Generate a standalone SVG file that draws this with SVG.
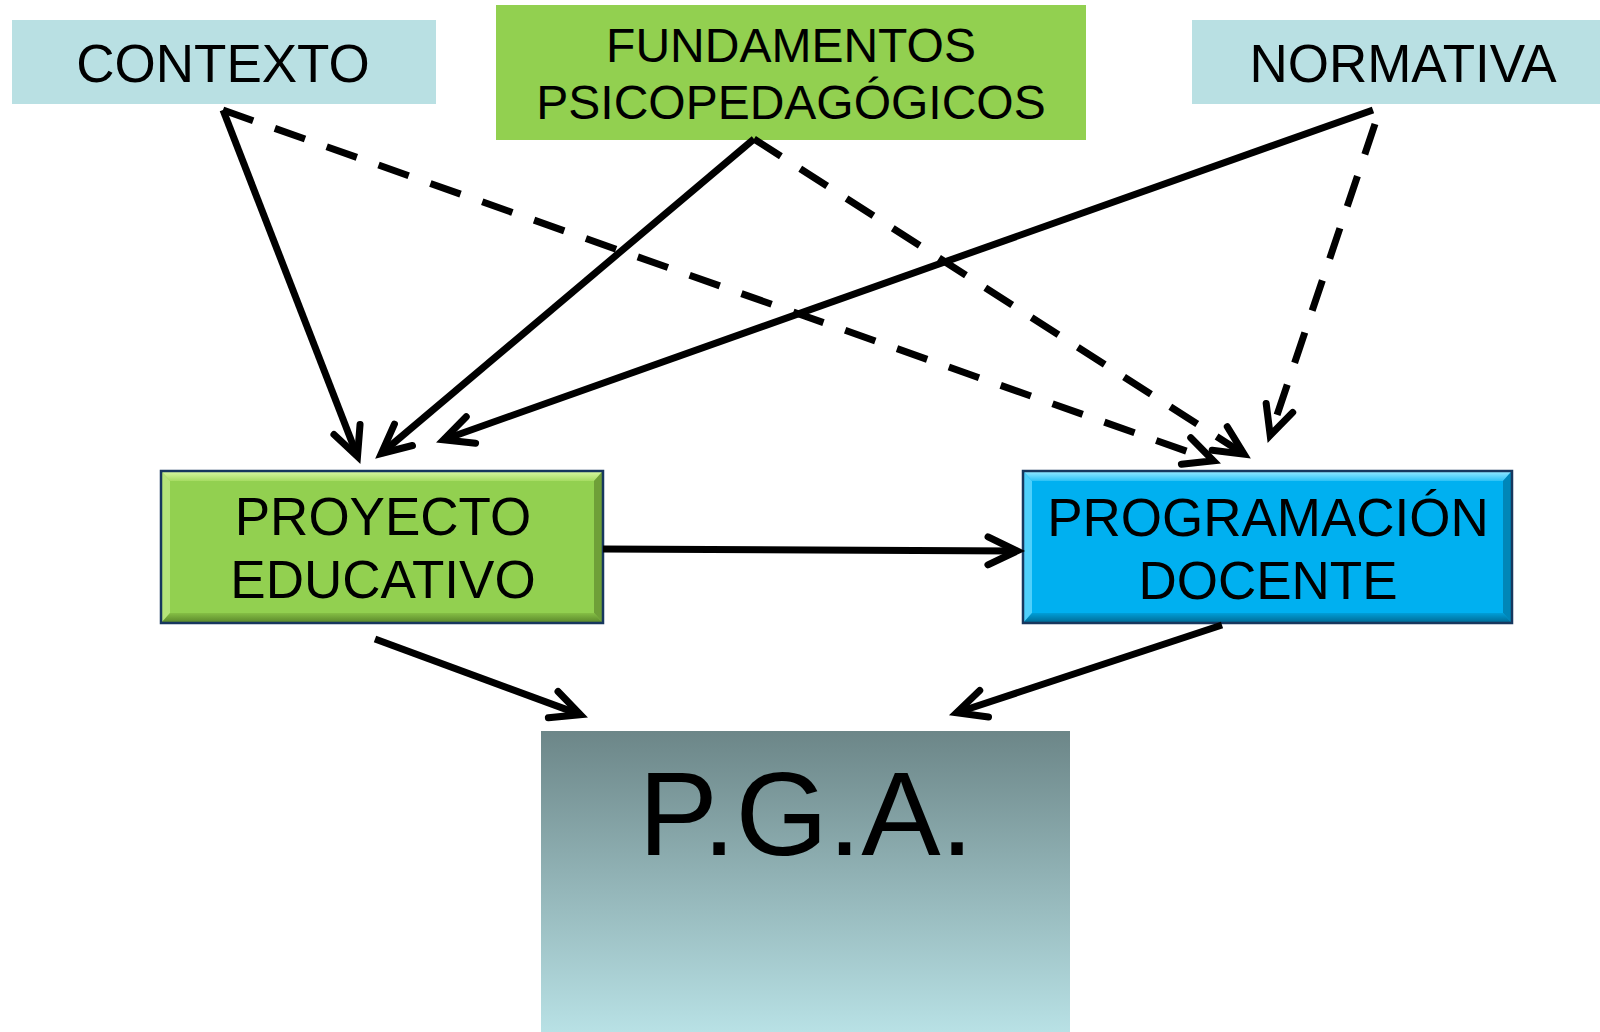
<svg xmlns="http://www.w3.org/2000/svg" width="1600" height="1032" viewBox="0 0 1600 1032">
  <style>
    .lbl { font-family: "Liberation Sans", Arial, sans-serif; fill: #000; text-anchor: middle; }
    .c { fill: none; stroke: #000; stroke-width: 7; stroke-linecap: butt; marker-end: url(#arr); }
    .d { stroke-dasharray: 32 23; }
    .edge { fill: none; stroke: #17375e; stroke-width: 2.5; }
  </style>
  <defs>
    <marker id="arr" markerUnits="userSpaceOnUse" orient="auto" refX="0" refY="0" markerWidth="60" markerHeight="60" overflow="visible">
      <path d="M -29,-14 L 0,0 L -29,14" fill="none" stroke="#000" stroke-width="7" stroke-dasharray="none" stroke-linecap="round" stroke-linejoin="miter" stroke-miterlimit="10"/>
    </marker>
    <linearGradient id="pgaGrad" x1="0" y1="0" x2="0" y2="1">
      <stop offset="0" stop-color="#6c8688"/>
      <stop offset="1" stop-color="#b8e1e5"/>
    </linearGradient>
    <linearGradient id="gTop" x1="0" y1="0" x2="0" y2="1">
      <stop offset="0" stop-color="#d6f79f"/>
      <stop offset="1" stop-color="#a6dc62"/>
    </linearGradient>
    <linearGradient id="gBot" x1="0" y1="0" x2="0" y2="1">
      <stop offset="0" stop-color="#85bf45"/>
      <stop offset="1" stop-color="#5d8a2c"/>
    </linearGradient>
    <linearGradient id="bTop" x1="0" y1="0" x2="0" y2="1">
      <stop offset="0" stop-color="#8ee6ff"/>
      <stop offset="1" stop-color="#2cc2f6"/>
    </linearGradient>
    <linearGradient id="bBot" x1="0" y1="0" x2="0" y2="1">
      <stop offset="0" stop-color="#009fd8"/>
      <stop offset="1" stop-color="#006d98"/>
    </linearGradient>
  </defs>

  <rect x="0" y="0" width="1600" height="1032" fill="#ffffff"/>

  <g id="node-contexto">
    <rect x="12" y="20" width="424" height="84" fill="#b9e0e3"/>
    <text class="lbl" x="223" y="82" font-size="53">CONTEXTO</text>
  </g>

  <g id="node-fundamentos">
    <rect x="496" y="5" width="590" height="135" fill="#92d050"/>
    <text class="lbl" x="791" y="61.5" font-size="48">FUNDAMENTOS</text>
    <text class="lbl" x="791" y="118.5" font-size="48">PSICOPEDAGÓGICOS</text>
  </g>

  <g id="node-normativa">
    <rect x="1192" y="20" width="408" height="84" fill="#b9e0e3"/>
    <text class="lbl" x="1403" y="82" font-size="53">NORMATIVA</text>
  </g>

  <g id="node-proyecto">
    <rect x="161" y="471" width="442" height="152" fill="#92d050"/>
    <polygon points="162,472 602,472 594,481 170,481" fill="url(#gTop)"/>
    <polygon points="162,472 170,481 170,613 162,622" fill="#b5e47a"/>
    <polygon points="602,472 602,622 594,613 594,481" fill="#6f9f38"/>
    <polygon points="162,622 170,613 594,613 602,622" fill="url(#gBot)"/>
    <rect x="161" y="471" width="442" height="152" class="edge"/>
    <text class="lbl" x="383" y="535" font-size="53">PROYECTO</text>
    <text class="lbl" x="383" y="598" font-size="53">EDUCATIVO</text>
  </g>

  <g id="node-programacion">
    <rect x="1023" y="471" width="489" height="152" fill="#00b0f0"/>
    <polygon points="1024,472 1511,472 1503,481 1032,481" fill="url(#bTop)"/>
    <polygon points="1024,472 1032,481 1032,613 1024,622" fill="#4fd0fb"/>
    <polygon points="1511,472 1511,622 1503,613 1503,481" fill="#0086b8"/>
    <polygon points="1024,622 1032,613 1503,613 1511,622" fill="url(#bBot)"/>
    <rect x="1023" y="471" width="489" height="152" class="edge"/>
    <text class="lbl" x="1268" y="536" font-size="53">PROGRAMACIÓN</text>
    <text class="lbl" x="1268" y="599" font-size="53">DOCENTE</text>
  </g>

  <g id="node-pga">
    <rect x="541" y="731" width="529" height="301" fill="url(#pgaGrad)"/>
    <text class="lbl" x="806" y="855" font-size="119">P.G.A.</text>
  </g>

  <g id="connectors">
    <path class="c" d="M 223,110 L 357.5,456.5"/>
    <path class="c d" d="M 223,110 L 1213.4,460.7"/>
    <path class="c" d="M 754,139 L 381.3,453.5"/>
    <path class="c d" d="M 754,139 L 1244.1,454.2"/>
    <path class="c" d="M 1373,110 L 443.6,439.7"/>
    <path class="c d" d="M 1375,124 L 1270.2,435.4"/>
    <path class="c" d="M 603,549 L 1017,551"/>
    <path class="c" d="M 375,639 L 580.4,714.6"/>
    <path class="c" d="M 1222,625 L 956.6,712.8"/>
  </g>
</svg>
